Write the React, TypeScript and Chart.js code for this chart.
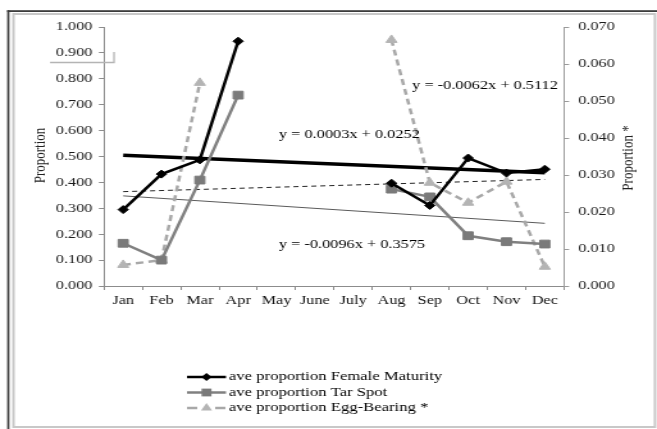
import React, { useEffect, useRef } from 'react';
import { Chart, registerables } from 'chart.js';

Chart.register(...registerables);

// ---------- data ----------
const categories = ['Jan', 'Feb', 'Mar', 'Apr', 'May', 'June', 'July', 'Aug', 'Sep', 'Oct', 'Nov', 'Dec'];
const femaleMaturity = [0.295, 0.432, 0.487, 0.945, null, null, null, 0.397, 0.311, 0.494, 0.436, 0.451];
const tarSpot = [0.165, 0.100, 0.409, 0.737, null, null, null, 0.374, 0.344, 0.194, 0.171, 0.162];
const eggBearing = [0.0057, 0.0070, 0.0549, null, null, null, null, 0.0665, 0.0279, 0.0225, 0.0282, 0.0052];

const trendCategories = ['Jan', 'Dec'];
const trendFemale = [0.505, 0.437];
const trendTar = [0.348, 0.242];
const trendEgg = [0.0255, 0.0288];

const leftTickLabels = ['0.000', '0.100', '0.200', '0.300', '0.400', '0.500', '0.600', '0.700', '0.800', '0.900', '1.000'];
const rightTickLabels = ['0.000', '0.010', '0.020', '0.030', '0.040', '0.050', '0.060', '0.070'];

const seriesNames = ['ave proportion Female Maturity', 'ave proportion Tar Spot', 'ave proportion Egg-Bearing *'];
const trendEquations = ['y = -0.0062x + 0.5112', 'y = 0.0003x + 0.0252', 'y = -0.0096x + 0.3575'];
const axisTitles = ['Proportion', 'Proportion *'];

// ---------- layout (the reference is horizontally stretched) ----------
const OUT_W = 657;
const H = 429;
const W = 513;
const SX = OUT_W / W;
const ix = (x: number) => x / SX;

const FONT = '"Liberation Serif", "Times New Roman", serif';
const FS = 12.75;

// label anchors in data units: [category index, left-axis value]
const equationAnchors = [
  [9.44, 0.772],
  [5.9, 0.583],
  [5.97, 0.158],
];

function drawMarker(ctx: CanvasRenderingContext2D, style: string, x: number, y: number, r: number) {
  ctx.beginPath();
  if (style === 'rectRot') {
    ctx.moveTo(x - r, y);
    ctx.lineTo(x, y - r);
    ctx.lineTo(x + r, y);
    ctx.lineTo(x, y + r);
  } else if (style === 'rect') {
    const s = Math.SQRT1_2 * r;
    ctx.rect(x - s, y - s, 2 * s, 2 * s);
  } else {
    ctx.moveTo(x, y - r);
    ctx.lineTo(x + 0.866 * r, y + 0.5 * r);
    ctx.lineTo(x - 0.866 * r, y + 0.5 * r);
  }
  ctx.closePath();
  ctx.fill();
}

const decorPlugin = {
  id: 'decor',
  afterDraw(chart: any) {
    const ctx: CanvasRenderingContext2D = chart.ctx;
    const xs = chart.scales.x;
    const yl = chart.scales.y;
    const area = chart.chartArea;
    ctx.save();

    // frame
    ctx.fillStyle = '#3c3c3c';
    ctx.fillRect(ix(7.2), 10.2, W, 1.8);
    ctx.fillRect(ix(7.2), 10.2, ix(2.2), H);
    ctx.strokeStyle = '#c8c8c8';
    ctx.lineWidth = 2;
    ctx.strokeRect(ix(13.5), 14, ix(655) - ix(13.5), 427 - 14);

    // small bracket artefact near 0.900
    ctx.strokeStyle = '#b4b4b4';
    ctx.lineWidth = 1.3;
    ctx.beginPath();
    ctx.moveTo(ix(50), 62.5);
    ctx.lineTo(ix(114), 62.5);
    ctx.lineTo(ix(114), 52);
    ctx.stroke();

    // axis titles
    ctx.fillStyle = '#222';
    ctx.font = `13px ${FONT}`;
    ctx.textAlign = 'center';
    ctx.textBaseline = 'middle';
    ctx.save();
    ctx.translate(ix(41), (area.top + area.bottom) / 2 - 1);
    ctx.rotate(-Math.PI / 2);
    ctx.fillText(axisTitles[0], 0, 0);
    ctx.restore();
    ctx.save();
    ctx.translate(ix(628), 158);
    ctx.rotate(-Math.PI / 2);
    ctx.fillText(axisTitles[1], 0, 0);
    ctx.restore();

    // trend equations
    ctx.fillStyle = '#000';
    ctx.font = `${FS}px ${FONT}`;
    trendEquations.forEach((t, i) => {
      const [cx, cy] = equationAnchors[i];
      ctx.fillText(t, xs.getPixelForValue(cx), yl.getPixelForValue(cy));
    });

    // legend
    const rows = [377, 392.5, 408];
    const x0 = ix(187);
    const x1 = ix(226);
    const xm = (x0 + x1) / 2;
    ctx.textAlign = 'left';
    ctx.font = `13px ${FONT}`;
    for (let i = 0; i < 3; i++) {
      const ds = chart.data.datasets[i];
      const y = rows[i];
      ctx.strokeStyle = ds.borderColor;
      ctx.lineWidth = ds.borderWidth;
      ctx.setLineDash(i === 2 ? [8, 14] : []);
      ctx.beginPath();
      ctx.moveTo(x0, y);
      ctx.lineTo(x1, y);
      ctx.stroke();
      ctx.setLineDash([]);
      ctx.fillStyle = ds.pointBackgroundColor;
      drawMarker(ctx, ds.pointStyle, xm, y, ds.pointRadius);
      ctx.fillStyle = '#000';
      ctx.fillText(seriesNames[i], ix(229), y);
    }
    ctx.restore();
  },
};

export default function App() {
  const ref = useRef<HTMLCanvasElement | null>(null);

  useEffect(() => {
    if (!ref.current) return;
    const tickFont = { family: FONT, size: FS };
    const chart = new Chart(ref.current, {
      type: 'line',
      data: {
        labels: categories,
        datasets: [
          {
            label: seriesNames[0],
            data: femaleMaturity,
            yAxisID: 'y',
            borderColor: '#000000',
            backgroundColor: '#000000',
            pointBackgroundColor: '#000000',
            pointBorderColor: '#000000',
            borderWidth: 2.5,
            pointStyle: 'rectRot',
            pointRadius: 4,
            pointBorderWidth: 1,
            order: 1,
          },
          {
            label: seriesNames[1],
            data: tarSpot,
            yAxisID: 'y',
            borderColor: '#808080',
            backgroundColor: '#808080',
            pointBackgroundColor: '#7a7a7a',
            pointBorderColor: '#7a7a7a',
            borderWidth: 2.5,
            pointStyle: 'rect',
            pointRadius: 5.5,
            pointBorderWidth: 1,
            order: 2,
          },
          {
            label: seriesNames[2],
            data: eggBearing,
            yAxisID: 'y1',
            borderColor: '#a8a8a8',
            backgroundColor: '#b4b4b4',
            pointBackgroundColor: '#b4b4b4',
            pointBorderColor: '#b4b4b4',
            borderWidth: 2.5,
            borderDash: [6, 4],
            pointStyle: 'triangle',
            pointRadius: 5,
            pointBorderWidth: 1,
            order: 3,
          },
          {
            label: 'trend female',
            data: trendCategories.map((c, i) => ({ x: c, y: trendFemale[i] })),
            yAxisID: 'y',
            borderColor: '#000000',
            borderWidth: 3.5,
            pointRadius: 0,
            order: 4,
          },
          {
            label: 'trend tar',
            data: trendCategories.map((c, i) => ({ x: c, y: trendTar[i] })),
            yAxisID: 'y',
            borderColor: '#5a5a5a',
            borderWidth: 1,
            pointRadius: 0,
            order: 5,
          },
          {
            label: 'trend egg',
            data: trendCategories.map((c, i) => ({ x: c, y: trendEgg[i] })),
            yAxisID: 'y1',
            borderColor: '#222222',
            borderWidth: 1,
            borderDash: [4, 3],
            pointRadius: 0,
            order: 6,
          },
        ] as any,
      },
      options: {
        responsive: false,
        animation: false,
        events: [],
        layout: { padding: { top: 27, left: 0, right: 0, bottom: 0 } },
        plugins: {
          legend: { display: false },
          tooltip: { enabled: false },
        },
        scales: {
          x: {
            type: 'category',
            offset: true,
            grid: { offset: true, drawOnChartArea: false, drawTicks: true, tickLength: 4, color: '#8c8c8c' },
            border: { color: '#8c8c8c', width: 1 },
            ticks: { font: tickFont, color: '#111', padding: 3, autoSkip: false, maxRotation: 0 },
            afterFit: (s: any) => { s.height = H - 286; },
          },
          y: {
            position: 'left',
            min: 0,
            max: 1,
            grid: { drawOnChartArea: false, tickLength: 4, color: '#8c8c8c' },
            border: { color: '#8c8c8c', width: 1 },
            ticks: {
              font: tickFont,
              color: '#1a1a1a',
              padding: 5,
              callback: (_v: any, i: number) => leftTickLabels[i],
            },
            afterBuildTicks: (s: any) => { s.ticks = leftTickLabels.map((t) => ({ value: parseFloat(t) })); },
            afterFit: (s: any) => { s.width = ix(104); },
          },
          y1: {
            position: 'right',
            min: 0,
            max: 0.07,
            grid: { drawOnChartArea: false, tickLength: 4, color: '#9a9a9a' },
            border: { color: '#9a9a9a', width: 1, dash: [2, 2] },
            ticks: {
              font: tickFont,
              color: '#1a1a1a',
              padding: 7,
              callback: (_v: any, i: number) => rightTickLabels[i],
            },
            afterBuildTicks: (s: any) => { s.ticks = rightTickLabels.map((t) => ({ value: parseFloat(t) })); },
            afterFit: (s: any) => { s.width = W - ix(564); },
          },
        },
      } as any,
      plugins: [decorPlugin],
    });
    return () => chart.destroy();
  }, []);

  return (
    <div style={{ position: 'absolute', left: 0, top: 0, width: OUT_W, height: H, background: '#fff' }}>
      <canvas
        ref={ref}
        width={W}
        height={H}
        style={{ display: 'block', width: `${OUT_W}px`, height: `${H}px` }}
      />
    </div>
  );
}
